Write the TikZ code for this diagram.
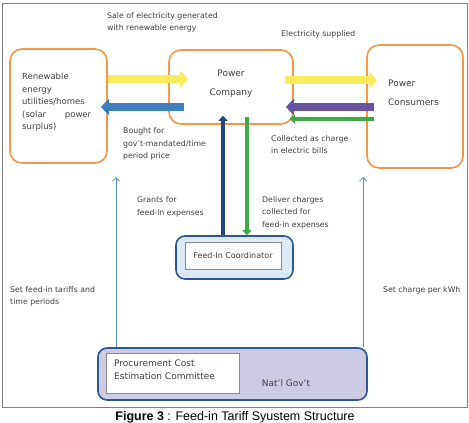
\documentclass[tikz,border=0pt]{standalone}
\usepackage{fontspec}
\setmainfont{DejaVu Sans}
\newfontfamily\captionfont{Liberation Sans}
\usetikzlibrary{arrows.meta}
\definecolor{fitOrange}{RGB}{247,150,70}
\definecolor{fitYellow}{RGB}{250,236,90}
\definecolor{fitBlue}{RGB}{62,125,192}
\definecolor{fitPurple}{RGB}{102,84,162}
\definecolor{fitGreen}{RGB}{60,170,75}
\definecolor{fitNavy}{RGB}{31,73,125}
\definecolor{fitRuleBlue}{RGB}{91,140,200}
\definecolor{fitBorder}{RGB}{47,85,151}
\definecolor{fitCoordFill}{RGB}{221,233,246}
\definecolor{fitGovFill}{RGB}{205,202,227}
\definecolor{fitText}{RGB}{64,64,64}
\begin{document}
\begin{tikzpicture}[x=1pt, y=-1pt,
    fitPartyBox/.style={draw=fitOrange, line width=1.6pt, rounded corners=12pt, inner sep=0pt},
    fitOuterBox/.style={draw=fitBorder, line width=1.6pt, rounded corners=9pt, inner sep=0pt},
    fitInnerBox/.style={draw=black!45, fill=white, line width=0.6pt, inner sep=0pt, text=fitText, font=\fontsize{8}{10}\selectfont},
    fitLabel/.style={anchor=north west, inner sep=0pt, align=left, text=fitText, font=\fontsize{7.8}{12.6}\selectfont},
    fitTitle/.style={inner sep=0pt, text=fitText, font=\fontsize{9}{19}\selectfont},
    fitBlock/.style={line width=8.5pt, -{Triangle[length=8pt,width=16pt]}},
    fitSlim/.style={line width=4pt, -{Triangle[length=5pt,width=9pt]}},
    fitRule/.style={draw=fitRuleBlue, line width=0.8pt, -{Straight Barb[length=3.5pt,width=7pt]}}
]
\useasboundingbox (0,0) rectangle (469,423);
\draw[black!50, line width=1pt] (2,3) rectangle (467,407);

% market parties
\node[fitPartyBox, minimum width=97pt, minimum height=114pt] (renew) at (58.5,106) {};
\node[fitPartyBox, minimum width=124pt, minimum height=74pt] (power) at (231,87) {};
\node[fitPartyBox, minimum width=96pt, minimum height=123pt] (consumers) at (415,106.5) {};
\node[fitLabel, text width=69pt, font=\fontsize{8.5}{12.5}\selectfont] (renewText) at (22,73)
    {Renewable\\energy\\utilities/homes\\(solar\hfill power\\surplus)};
\node[fitTitle, align=center] (powerText) at (231,84) {Power\\Company};
\node[fitTitle, anchor=north west, align=left] (consumersText) at (388,80) {Power\\Consumers};

% public bodies
\node[fitOuterBox, fill=fitCoordFill, minimum width=117pt, minimum height=43pt] (coord) at (234.5,257.5) {};
\node[fitInnerBox, minimum width=96pt, minimum height=27pt] (coordInner) at (233,255.5) {Feed-In Coordinator};
\node[fitOuterBox, fill=fitGovFill, minimum width=269pt, minimum height=52pt] (gov) at (232.5,374) {};
\node[fitInnerBox, minimum width=133pt, minimum height=40pt] (committee) at (172.5,373) {};
\node[fitLabel, font=\fontsize{9}{13}\selectfont] (committeeText) at (114,359.5) {Procurement Cost\\Estimation Committee};
\node[fitTitle] (govText) at (286,383) {Nat'l Gov't};

% electricity and money flows
\draw[fitBlock, draw=fitYellow] ([yshift=27pt]renew.east) -- ([xshift=20pt,yshift=8pt]power.west);
\draw[fitBlock, draw=fitBlue] ([xshift=16pt,yshift=-20pt]power.west) -- ([xshift=-7pt,yshift=-1pt]renew.east);
\draw[fitBlock, draw=fitYellow] ([xshift=-9pt,yshift=7pt]power.east) -- ([xshift=11pt,yshift=26.5pt]consumers.west);
\draw[fitBlock, line width=7.5pt, draw=fitPurple] ([xshift=8pt,yshift=-0.5pt]consumers.west) -- ([xshift=-8pt,yshift=-20pt]power.east);
\draw[fitSlim, draw=fitGreen] ([xshift=8pt,yshift=-12.5pt]consumers.west) -- ([xshift=-4pt,yshift=-32pt]power.east);
\draw[fitSlim, draw=fitNavy] ([xshift=-11.5pt]coord.north) -- ([xshift=-8pt,yshift=9pt]power.south);
\draw[fitSlim, draw=fitGreen] ([xshift=16pt,yshift=8pt]power.south) -- ([xshift=12.5pt]coord.north);

% rules set by the government
\coordinate (tariffTip) at (116,177);
\coordinate (chargeTip) at (363,177);
\draw[fitRule] (tariffTip |- gov.north) -- (tariffTip);
\draw[fitRule] (chargeTip |- gov.north) -- (chargeTip);

% flow labels
\node[fitLabel] (saleText) at (107,12) {Sale of electricity generated\\with renewable energy};
\node[fitLabel] (supplyText) at (281,30) {Electricity supplied};
\node[fitLabel] (boughtText) at (123,127.5) {Bought for\\gov't-mandated/time\\period price};
\node[fitLabel] (collectedText) at (271,135) {Collected as charge\\in electric bills};
\node[fitLabel] (grantsText) at (137,196.5) {Grants for\\feed-in expenses};
\node[fitLabel] (deliverText) at (262,196) {Deliver charges\\collected for\\feed-in expenses};
\node[fitLabel] (tariffText) at (10,286) {Set feed-in tariffs and\\time periods};
\node[fitLabel] (chargeText) at (383,286) {Set charge per kWh};

% caption
\node[anchor=base, inner sep=0pt, font=\captionfont\fontsize{12.5}{15}\selectfont] (caption) at (235,420)
    {\textbf{Figure 3} : Feed-in Tariff Syustem Structure};
\end{tikzpicture}
\end{document}
